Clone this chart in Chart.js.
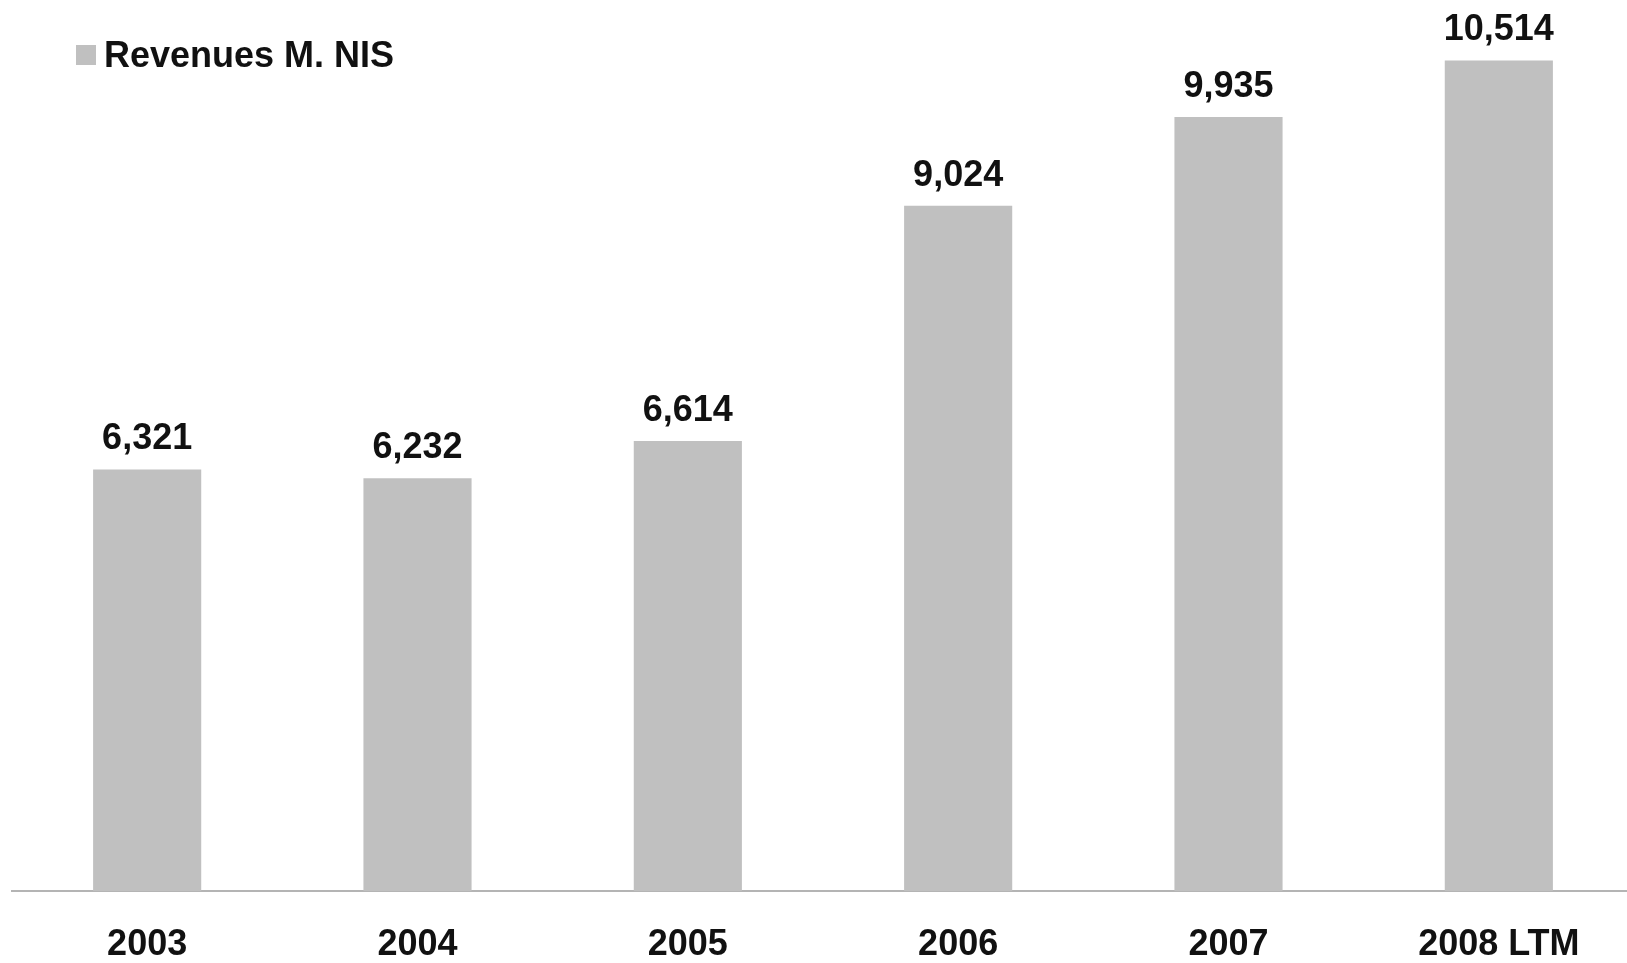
<!DOCTYPE html>
<html>
<head>
<meta charset="utf-8">
<script src="https://cdn.jsdelivr.net/npm/chart.js@4"></script>
<style>
  html, body { margin: 0; padding: 0; background: #fff; overflow: hidden; }
  #wrap { width: 1634px; height: 963px; }
</style>
</head>
<body>
<div id="wrap"><canvas id="revChart"></canvas></div>
<script>
// data
const years = ["2003", "2004", "2005", "2006", "2007", "2008 LTM"];
const revenues = [6321, 6232, 6614, 9024, 9935, 10514];
const seriesName = "Revenues M. NIS";

const FONT = "'Liberation Sans', Arial, sans-serif";
const BAR_GREY = "#c0c0c0";

// value labels above bars + legend in the top-left corner
const labelsPlugin = {
  id: "labelsPlugin",
  afterDatasetsDraw(chart) {
    const ctx = chart.ctx;
    const meta = chart.getDatasetMeta(0);
    ctx.save();
    ctx.fillStyle = "#111";
    ctx.font = "bold 36px " + FONT;
    ctx.textAlign = "center";
    ctx.textBaseline = "alphabetic";
    meta.data.forEach((bar, i) => {
      ctx.fillText(revenues[i].toLocaleString("en-US"), bar.x, bar.y - 20);
    });

    // legend
    ctx.fillStyle = BAR_GREY;
    ctx.fillRect(76, 45, 20, 20);
    ctx.fillStyle = "#111";
    ctx.font = "bold 36px " + FONT;
    ctx.textAlign = "left";
    ctx.fillText(seriesName, 104, 67);
    ctx.restore();
  },
};

new Chart(document.getElementById("revChart"), {
  type: "bar",
  data: {
    labels: years,
    datasets: [
      {
        label: seriesName,
        data: revenues,
        backgroundColor: BAR_GREY,
        borderWidth: 0,
        barPercentage: 0.4,
        categoryPercentage: 1.0,
      },
    ],
  },
  options: {
    responsive: true,
    maintainAspectRatio: false,
    animation: false,
    layout: { padding: { left: 12, right: 0, top: 13, bottom: -36 } },
    plugins: {
      legend: { display: false },
      tooltip: { enabled: false },
    },
    scales: {
      x: {
        grid: { display: false, drawTicks: false },
        border: { display: true, color: "#b4b4b4", width: 2 },
        ticks: {
          color: "#111",
          padding: 36,
          font: { family: FONT, size: 36, weight: "bold", lineHeight: 1 },
        },
      },
      y: {
        display: false,
        min: 2000,
        max: 11000,
      },
    },
  },
  plugins: [labelsPlugin],
});
</script>
</body>
</html>
